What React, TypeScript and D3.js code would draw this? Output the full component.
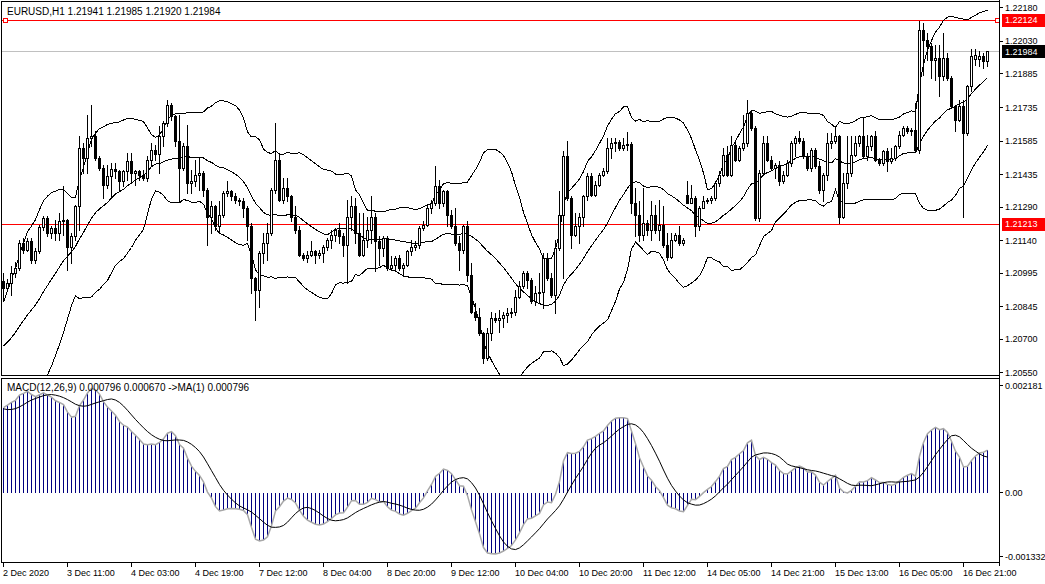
import React from "react";
import * as d3 from "d3";

// ---- data (EURUSD H1) ----
// closes of the bars just before the first visible bar (needed for the indicators)
const priorCloses = [1.192, 1.1922, 1.1925, 1.193, 1.1936, 1.1944, 1.1953, 1.1963, 1.1973, 1.1983, 1.1993, 1.2003, 1.2013, 1.2022, 1.203, 1.2037, 1.2043, 1.2048, 1.2052, 1.2055, 1.2057, 1.2058, 1.2059, 1.206, 1.206, 1.2062, 1.2058, 1.2055, 1.2057, 1.206, 1.2063, 1.2061, 1.2064, 1.2066, 1.206, 1.2062, 1.2063, 1.2064, 1.2066, 1.2068, 1.2071, 1.2075, 1.2081, 1.2088];

const opens = [1.20956,1.20926,1.20948,1.20993,1.21016,1.21127,1.21098,1.21139,1.21053,1.2109,1.21199,1.21239,1.21172,1.21194,1.21172,1.21224,1.21229,1.21112,1.21157,1.21291,1.21552,1.21507,1.21597,1.21604,1.21507,1.21463,1.21388,1.21425,1.21458,1.21448,1.21403,1.21448,1.21492,1.2144,1.21448,1.21433,1.21418,1.215,1.21544,1.21527,1.21604,1.21664,1.21746,1.21693,1.21582,1.21463,1.21559,1.21395,1.21403,1.21433,1.2144,1.21366,1.21246,1.21291,1.21202,1.21254,1.21351,1.21358,1.21336,1.21321,1.21314,1.21284,1.21202,1.20971,1.20919,1.21083,1.21127,1.21172,1.21366,1.215,1.21321,1.21373,1.21336,1.21246,1.21187,1.21075,1.2106,1.21075,1.2109,1.21075,1.21083,1.21112,1.21142,1.21165,1.21187,1.21157,1.2112,1.21246,1.21291,1.21172,1.21075,1.21142,1.21187,1.21246,1.21135,1.21105,1.2115,1.21016,1.21031,1.2106,1.21016,1.21031,1.2109,1.21112,1.2112,1.21194,1.21209,1.21284,1.21306,1.21381,1.21306,1.21358,1.21254,1.21202,1.21127,1.21098,1.21202,1.20986,1.20822,1.20799,1.20725,1.20613,1.20725,1.20792,1.20785,1.20792,1.20807,1.20814,1.20822,1.20889,1.20934,1.20993,1.20963,1.20867,1.20904,1.20911,1.2106,1.20971,1.20896,1.21105,1.21254,1.21515,1.21328,1.21165,1.21202,1.21246,1.21336,1.21425,1.21343,1.21388,1.21433,1.21448,1.21552,1.21574,1.21579,1.21552,1.21567,1.2157,1.21306,1.21254,1.21165,1.21217,1.21187,1.21254,1.21187,1.21209,1.2112,1.21065,1.21142,1.21165,1.21127,1.21343,1.21306,1.21328,1.21202,1.21284,1.21314,1.21321,1.21328,1.21395,1.21433,1.21522,1.21433,1.21567,1.215,1.21552,1.21574,1.21708,1.21641,1.21239,1.2144,1.21574,1.215,1.21463,1.21477,1.21403,1.21433,1.21485,1.21574,1.21597,1.21582,1.21515,1.21463,1.21544,1.2147,1.21366,1.21433,1.21574,1.21582,1.21604,1.21246,1.21395,1.2144,1.21522,1.21574,1.21604,1.21515,1.21559,1.21604,1.215,1.21485,1.21537,1.21492,1.21507,1.21559,1.21612,1.21641,1.21626,1.21634,1.21544,1.22081,1.22036,1.22006,1.21947,1.21954,1.21872,1.21954,1.21865,1.21738,1.21679,1.21738,1.21619,1.21828,1.2195,1.2195,1.21965,1.21941];

const highs = [1.20993,1.20966,1.21023,1.21045,1.21142,1.2115,1.2115,1.2115,1.21105,1.21209,1.21247,1.21247,1.21202,1.21232,1.21261,1.21381,1.21235,1.21172,1.21299,1.21604,1.21574,1.21701,1.21746,1.21626,1.21515,1.21477,1.21477,1.21485,1.21485,1.21455,1.21455,1.2153,1.2153,1.21455,1.21455,1.21455,1.21515,1.21574,1.21567,1.21649,1.21671,1.21768,1.21753,1.21701,1.21701,1.21574,1.21656,1.21455,1.215,1.21507,1.21448,1.21373,1.21314,1.21299,1.21314,1.21358,1.21403,1.21366,1.21351,1.21328,1.21328,1.21291,1.21217,1.20978,1.2109,1.21172,1.21217,1.21373,1.21664,1.2153,1.21418,1.21418,1.21343,1.21291,1.21202,1.21083,1.2109,1.21135,1.21098,1.21098,1.2112,1.2115,1.21187,1.21194,1.21217,1.21172,1.21321,1.21336,1.21328,1.21261,1.21261,1.21246,1.21336,1.21261,1.21157,1.21157,1.21157,1.21068,1.21068,1.21075,1.21038,1.21098,1.21142,1.21135,1.21202,1.21224,1.21291,1.21321,1.2147,1.21411,1.21366,1.21366,1.21276,1.21284,1.21157,1.21209,1.21224,1.21038,1.20859,1.20837,1.20732,1.20747,1.20822,1.20814,1.20829,1.20822,1.20837,1.20837,1.20919,1.20956,1.21001,1.21001,1.20971,1.20934,1.20993,1.21083,1.21083,1.20993,1.21142,1.21358,1.21537,1.21582,1.21336,1.21261,1.21261,1.21343,1.2144,1.2144,1.21403,1.2144,1.21463,1.21597,1.21597,1.21597,1.21589,1.21597,1.21622,1.2158,1.21373,1.21314,1.21373,1.21232,1.21314,1.21299,1.21321,1.21291,1.21172,1.21172,1.21172,1.21202,1.2115,1.21403,1.21388,1.21336,1.21291,1.21336,1.21328,1.21336,1.21403,1.21448,1.21552,1.21559,1.21604,1.21589,1.21559,1.21701,1.21768,1.21716,1.21649,1.21455,1.21604,1.21604,1.21515,1.21485,1.21492,1.21448,1.215,1.21582,1.21604,1.21626,1.21597,1.2153,1.21552,1.21552,1.21492,1.2144,1.21619,1.21619,1.21649,1.21612,1.2144,1.21604,1.21604,1.21604,1.21612,1.21686,1.21612,1.21612,1.21626,1.21507,1.21544,1.21552,1.21552,1.21567,1.21626,1.21649,1.21649,1.21641,1.21753,1.22118,1.22111,1.22066,1.22021,1.22014,1.22014,1.22066,1.21977,1.21872,1.21746,1.21768,1.21768,1.21835,1.21992,1.21992,1.21984,1.21977,1.21985];

const lows = [1.20874,1.20919,1.20896,1.20978,1.21008,1.21083,1.2109,1.21038,1.21038,1.21083,1.21187,1.21157,1.2115,1.21142,1.21142,1.21165,1.21008,1.21038,1.21142,1.21187,1.2144,1.2144,1.21559,1.215,1.21455,1.21328,1.21373,1.21336,1.21418,1.21358,1.21381,1.21411,1.21403,1.21388,1.21411,1.21411,1.21403,1.2147,1.215,1.2144,1.21559,1.21649,1.21679,1.21559,1.21314,1.21455,1.21351,1.21351,1.21381,1.21366,1.21336,1.2112,1.21172,1.21187,1.21172,1.21246,1.21336,1.21321,1.21306,1.21299,1.21246,1.21142,1.20904,1.20785,1.20844,1.21038,1.21053,1.21165,1.21351,1.21314,1.21306,1.21314,1.21224,1.21172,1.21068,1.21053,1.21045,1.21068,1.21038,1.2106,1.21045,1.21098,1.21105,1.21135,1.21127,1.21068,1.20948,1.21187,1.21127,1.21068,1.21068,1.21112,1.21127,1.21001,1.21031,1.21068,1.21008,1.21008,1.21008,1.21008,1.20986,1.21023,1.21075,1.21098,1.21105,1.21187,1.21202,1.21261,1.21299,1.21284,1.21291,1.21202,1.21194,1.2112,1.21008,1.21083,1.20956,1.20814,1.20785,1.20718,1.20591,1.20606,1.20695,1.20777,1.20732,1.20755,1.20777,1.20799,1.20807,1.20881,1.20926,1.20926,1.20859,1.20852,1.20859,1.20837,1.20963,1.20889,1.20814,1.21098,1.20971,1.21321,1.21105,1.21157,1.21127,1.21202,1.21321,1.21336,1.21336,1.21381,1.21425,1.2144,1.21507,1.21537,1.21544,1.21544,1.21544,1.21261,1.21157,1.21135,1.21142,1.21165,1.21142,1.21172,1.21142,1.21112,1.21053,1.2106,1.21135,1.2112,1.2112,1.21306,1.21306,1.21157,1.21187,1.21284,1.21306,1.21306,1.21321,1.21381,1.21425,1.21425,1.21425,1.21492,1.21492,1.21544,1.21559,1.21634,1.21232,1.21224,1.21433,1.21492,1.21455,1.21418,1.21388,1.21395,1.21425,1.2147,1.21515,1.21574,1.21507,1.21455,1.21448,1.21463,1.21351,1.21314,1.21411,1.21552,1.21574,1.21217,1.2124,1.21373,1.21425,1.21515,1.21559,1.21507,1.215,1.21544,1.21492,1.21477,1.21477,1.21448,1.21485,1.215,1.21552,1.21604,1.21619,1.21612,1.21537,1.2153,1.2188,1.21947,1.21865,1.21857,1.21783,1.21857,1.21857,1.21731,1.21626,1.21671,1.21246,1.21612,1.21805,1.21924,1.21917,1.2191,1.2192];

const closes = [1.20926,1.20948,1.20993,1.21016,1.21127,1.21098,1.21139,1.21053,1.2109,1.21199,1.21239,1.21172,1.21194,1.21172,1.21224,1.21229,1.21112,1.21157,1.21291,1.21552,1.21507,1.21597,1.21604,1.21507,1.21463,1.21388,1.21425,1.21458,1.21448,1.21403,1.21448,1.21492,1.2144,1.21448,1.21433,1.21418,1.215,1.21544,1.21527,1.21604,1.21664,1.21746,1.21693,1.21582,1.21463,1.21559,1.21395,1.21403,1.21433,1.2144,1.21366,1.21246,1.21291,1.21202,1.21254,1.21351,1.21358,1.21336,1.21321,1.21314,1.21284,1.21202,1.20971,1.20919,1.21083,1.21127,1.21172,1.21366,1.215,1.21321,1.21373,1.21336,1.21246,1.21187,1.21075,1.2106,1.21075,1.2109,1.21075,1.21083,1.21112,1.21142,1.21165,1.21187,1.21157,1.2112,1.21246,1.21291,1.21172,1.21075,1.21142,1.21187,1.21246,1.21135,1.21105,1.2115,1.21016,1.21031,1.2106,1.21016,1.21031,1.2109,1.21112,1.2112,1.21194,1.21209,1.21284,1.21306,1.21381,1.21306,1.21358,1.21254,1.21202,1.21127,1.21098,1.21202,1.20986,1.20822,1.20799,1.20725,1.20613,1.20725,1.20792,1.20785,1.20792,1.20807,1.20814,1.20822,1.20889,1.20934,1.20993,1.20963,1.20867,1.20904,1.20911,1.2106,1.20971,1.20896,1.21105,1.21254,1.21515,1.21328,1.21165,1.21202,1.21246,1.21336,1.21425,1.21343,1.21388,1.21433,1.21448,1.21552,1.21574,1.21579,1.21552,1.21567,1.2157,1.21306,1.21254,1.21165,1.21217,1.21187,1.21254,1.21187,1.21209,1.2112,1.21065,1.21142,1.21165,1.21127,1.21142,1.21306,1.21328,1.21202,1.21284,1.21314,1.21321,1.21328,1.21395,1.21433,1.21522,1.21433,1.21567,1.215,1.21552,1.21574,1.21708,1.21641,1.21239,1.2144,1.21574,1.215,1.21463,1.21477,1.21403,1.21433,1.21485,1.21574,1.21597,1.21582,1.21515,1.21463,1.21544,1.2147,1.21366,1.21433,1.21574,1.21582,1.21604,1.21246,1.21395,1.2144,1.21522,1.21574,1.21604,1.21515,1.21559,1.21604,1.215,1.21485,1.21537,1.21492,1.21507,1.21559,1.21612,1.21641,1.21626,1.21634,1.21544,1.22081,1.22036,1.22006,1.21947,1.21954,1.21872,1.21954,1.21865,1.21738,1.21679,1.21738,1.21619,1.21828,1.21962,1.21969,1.21965,1.21941,1.21984];

const priceTicks = [1.2218, 1.2203, 1.21885, 1.21735, 1.21585, 1.21435, 1.2129, 1.2114, 1.20995, 1.20845, 1.207, 1.2055];
const redLevels = [1.22124, 1.21213];
const bidLevel = 1.21984;
const timeLabels = ["2 Dec 2020", "3 Dec 11:00", "4 Dec 03:00", "4 Dec 19:00", "7 Dec 12:00", "8 Dec 04:00", "8 Dec 20:00", "9 Dec 12:00", "10 Dec 04:00", "10 Dec 20:00", "11 Dec 12:00", "14 Dec 05:00", "14 Dec 21:00", "15 Dec 13:00", "16 Dec 05:00", "16 Dec 21:00"];
const timeLabelBars = [0, 16, 32, 48, 64, 80, 96, 112, 128, 144, 160, 176, 192, 208, 224, 240];
const macdRange = [-0.001332, 0.002181];
const headerText = "EURUSD,H1  1.21941 1.21985 1.21920 1.21984";
const macdText = "MACD(12,26,9) 0.000796 0.000670  ->MA(1) 0.000796";

const FONT = "'Liberation Sans', Arial, sans-serif";

export default function App() {
  const n = closes.length;
  const x = d3.scaleLinear().domain([0, n - 1]).range([3, 987]);
  const y = d3.scaleLinear().domain([1.20534, 1.22213]).range([376, 0]);
  const ym = d3.scaleLinear().domain(macdRange).range([562, 378]);

  // Bollinger Bands (20, 2)
  const all = priorCloses.concat(closes);
  const P = priorCloses.length;
  const bands = closes.map((_, i) => {
    const j = P + i;
    const win = all.slice(j - 19, j + 1);
    const m = d3.mean(win) as number;
    const sd = Math.sqrt(d3.mean(win, (v) => (v - m) * (v - m)) as number);
    return { mid: m, up: m + 2 * sd, lo: m - 2 * sd };
  });
  // MACD (12, 26, 9)
  let e12 = all[0];
  let e26 = all[0];
  const macdAll = all.map((c) => {
    e12 += (2 / 13) * (c - e12);
    e26 += (2 / 27) * (c - e26);
    return e12 - e26;
  });
  const sigAll = macdAll.map((_, k) => (k < 8 ? macdAll[k] : (d3.mean(macdAll.slice(k - 8, k + 1)) as number)));
  const macd = macdAll.slice(P);
  const signal = sigAll.slice(P);

  const px = (i: number) => Math.round(x(i)) + 0.5;
  const bandLine = (key: "mid" | "up" | "lo") =>
    d3.line<{ mid: number; up: number; lo: number }>().x((_, i) => px(i)).y((d) => y(d[key]))(bands) || "";
  const macdLine = d3.line<number>().x((_, i) => px(i)).y((d) => ym(d))(macd) || "";
  const sigLine = d3.line<number>().x((_, i) => px(i)).y((d) => ym(d))(signal) || "";
  const zeroY = Math.round(ym(0)) + 0.5;

  return (
    <svg
      width={1045}
      height={584}
      style={{ position: "absolute", left: 0, top: 0, background: "#fff" }}
      fontFamily={FONT}
    >
      <defs>
        <clipPath id="mainClip">
          <rect x={2} y={2} width={997} height={373} />
        </clipPath>
        <clipPath id="macdClip">
          <rect x={2} y={379} width={997} height={183} />
        </clipPath>
      </defs>
      <rect x={0} y={0} width={1045} height={584} fill="#fff" />

      {/* main panel */}
      <g clipPath="url(#mainClip)">
        <line x1={2} x2={999} y1={Math.round(y(bidLevel)) + 0.5} y2={Math.round(y(bidLevel)) + 0.5} stroke="#c0c0c0" />
        {redLevels.map((lv) => (
          <line key={lv} x1={2} x2={999} y1={Math.round(y(lv)) + 0.5} y2={Math.round(y(lv)) + 0.5} stroke="#ff0000" />
        ))}
        <g shapeRendering="crispEdges">
          {(["up", "mid", "lo"] as const).map((k) => (
            <path key={k} d={bandLine(k)} fill="none" stroke="#000" strokeWidth={1} />
          ))}
        </g>
        <g shapeRendering="crispEdges">
          {closes.map((c, i) => {
            const o = opens[i];
            const xc = Math.round(x(i));
            const top = Math.round(y(Math.max(o, c)));
            const bot = Math.round(y(Math.min(o, c)));
            const bull = c >= o;
            return (
              <g key={i}>
                <line x1={xc + 0.5} x2={xc + 0.5} y1={Math.round(y(highs[i]))} y2={Math.round(y(lows[i])) + 1} stroke="#000" />
                <rect
                  x={xc - 0.5}
                  y={top + 0.5}
                  width={2}
                  height={Math.max(bot - top, 0)}
                  fill={bull ? "#fff" : "#000"}
                  stroke="#000"
                />
              </g>
            );
          })}
        </g>
      </g>
      {/* level markers */}
      <rect x={3.5} y={Math.round(y(redLevels[0])) - 1.5} width={4} height={4} fill="#fff" stroke="#ff0000" />
      <rect x={995.5} y={Math.round(y(redLevels[0])) - 1.5} width={4} height={4} fill="#fff" stroke="#ff0000" />

      {/* frames */}
      <rect x={1.5} y={1.5} width={998} height={374} fill="none" stroke="#000" shapeRendering="crispEdges" />
      <rect x={1.5} y={378.5} width={998} height={184} fill="none" stroke="#000" shapeRendering="crispEdges" />
      <line x1={999.5} x2={999.5} y1={0} y2={566} stroke="#000" />

      <text x={7} y={15} fontSize={10} fill="#000">{headerText}</text>

      {/* price axis */}
      {priceTicks.map((t) => (
        <g key={t}>
          <line x1={999} x2={1003} y1={Math.round(y(t)) + 0.5} y2={Math.round(y(t)) + 0.5} stroke="#000" />
          <text x={1005} y={y(t) + 3.5} fontSize={9} fill="#000">{t.toFixed(5)}</text>
        </g>
      ))}
      {redLevels.map((lv) => (
        <g key={lv}>
          <rect x={1002} y={Math.round(y(lv)) - 6} width={43} height={13} fill="#ff0000" />
          <text x={1005} y={y(lv) + 3.5} fontSize={9} fill="#fff">{lv.toFixed(5)}</text>
        </g>
      ))}
      <rect x={1002} y={Math.round(y(bidLevel)) - 6} width={43} height={13} fill="#000" />
      <text x={1005} y={y(bidLevel) + 3.5} fontSize={9} fill="#fff">{bidLevel.toFixed(5)}</text>

      {/* MACD panel */}
      <g clipPath="url(#macdClip)">
        <g shapeRendering="crispEdges">
          {macd.map((m, i) => (
            <line key={i} x1={px(i)} x2={px(i)} y1={zeroY} y2={ym(m)} stroke="#000080" />
          ))}
        </g>
        <path d={macdLine} fill="none" stroke="#a8a8a8" strokeWidth={1.5} />
        <path d={sigLine} fill="none" stroke="#000" strokeWidth={1} />
      </g>
      <text x={7} y={391} fontSize={10} fill="#000">{macdText}</text>
      {[macdRange[1], 0, macdRange[0]].map((v, k) => {
        const yy = k === 0 ? 385 : k === 2 ? 556 : ym(0);
        const label = v === 0 ? "0.00" : v.toFixed(6);
        return (
          <g key={k}>
            <line x1={999} x2={1003} y1={Math.round(yy) + 0.5} y2={Math.round(yy) + 0.5} stroke="#000" />
            <text x={1005} y={yy + 3.5} fontSize={9} fill="#000">{label}</text>
          </g>
        );
      })}

      {/* time axis */}
      {timeLabelBars.map((b, k) => (
        <g key={b}>
          <line x1={px(b)} x2={px(b)} y1={563} y2={567} stroke="#000" />
          <text x={px(b) - 0.5} y={576} fontSize={9} fill="#000">{timeLabels[k]}</text>
        </g>
      ))}
    </svg>
  );
}
